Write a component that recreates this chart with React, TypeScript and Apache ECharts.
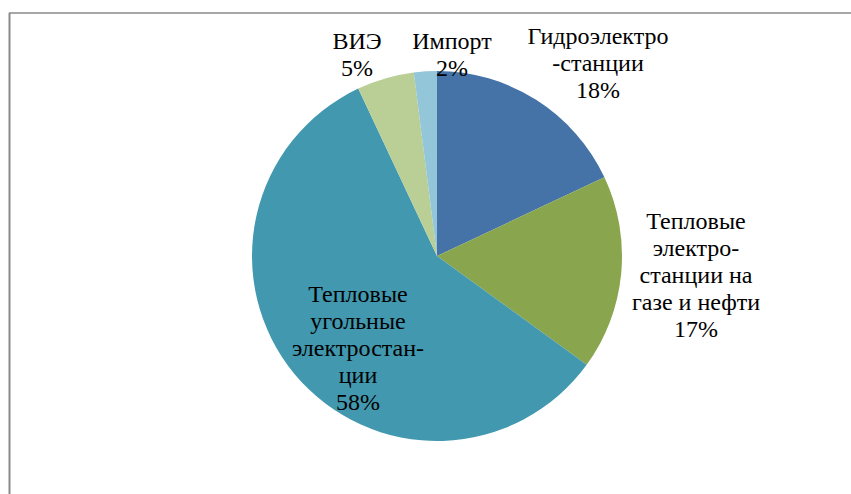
import React, { useEffect, useRef } from "react";
import * as echarts from "echarts";

const categories = [
  "Гидроэлектро\n-станции",
  "Тепловые\nэлектро-\nстанции на\nгазе и нефти",
  "Тепловые\nугольные\nэлектростан-\nции",
  "ВИЭ",
  "Импорт",
];
const values = [18, 17, 58, 5, 2];
const colors = ["#4572A7", "#89A54E", "#4198AF", "#B9CF96", "#93C6D8"];
// label anchor positions (px) for each slice label (block centre)
const labelPos: [number, number][] = [
  [598, 63],
  [696, 275],
  [358, 348],
  [357, 54],
  [452, 54],
];
const LINE_H = 27;
const FONT_SIZE = 24;
const FONT_FAMILY = "Liberation Serif";

export default function App() {
  const ref = useRef<HTMLDivElement>(null);
  useEffect(() => {
    document.body.style.margin = "0";
    const chart = echarts.init(ref.current!, null, { renderer: "svg" });
    const total = values.reduce((a, b) => a + b, 0);
    const canvas = document.createElement("canvas");
    const ctx = canvas.getContext("2d")!;
    ctx.font = FONT_SIZE + "px '" + FONT_FAMILY + "'";
    const labels: any[] = [];
    categories.forEach((name, i) => {
      const lines = (name + "\n" + Math.round((values[i] / total) * 100) + "%").split("\n");
      lines.forEach((line, j) => {
        const w = ctx.measureText(line).width;
        const cy = labelPos[i][1] + (j - (lines.length - 1) / 2) * LINE_H;
        labels.push({
          type: "text",
          x: labelPos[i][0] - w / 2,
          y: cy - FONT_SIZE / 2,
          z: 10,
          style: {
            text: line,
            fontFamily: FONT_FAMILY,
            fontSize: FONT_SIZE,
            fill: "#000",
          },
        });
      });
    });
    chart.setOption({
      animation: false,
      backgroundColor: "#ffffff",
      graphic: [
        {
          type: "line",
          shape: { x1: 9, y1: 13, x2: 851, y2: 13 },
          style: { stroke: "#8a8a8a", lineWidth: 1.5 },
        },
        {
          type: "line",
          shape: { x1: 9.5, y1: 13, x2: 9.5, y2: 494 },
          style: { stroke: "#8a8a8a", lineWidth: 2 },
        },
        ...labels,
      ],
      series: [
        {
          type: "pie",
          center: [437, 256],
          radius: 185,
          startAngle: 90,
          clockwise: true,
          data: categories.map((name, i) => ({
            name,
            value: values[i],
            itemStyle: { color: colors[i] },
          })),
          itemStyle: { borderWidth: 0 },
          label: { show: false },
          labelLine: { show: false },
          emphasis: { disabled: true },
        },
      ],
    });
    return () => chart.dispose();
  }, []);
  return <div ref={ref} style={{ width: 851, height: 494 }} />;
}
